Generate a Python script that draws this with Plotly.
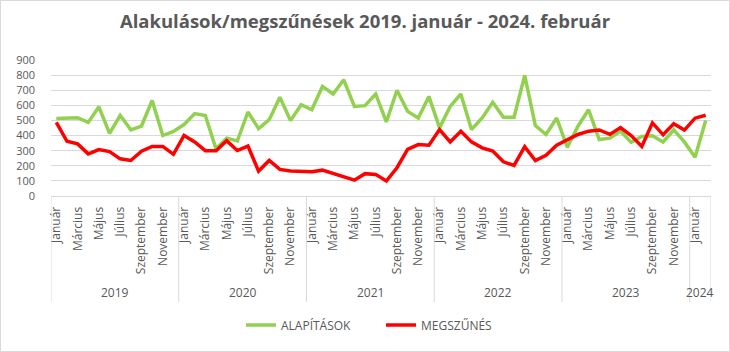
import plotly.graph_objects as go

years = ["2019", "2020", "2021", "2022", "2023", "2024"]
months_hu = ["Január", "Február", "Március", "Április", "Május", "Június",
             "Július", "Augusztus", "Szeptember", "Október", "November", "December"]
months_per_year = [12, 12, 12, 12, 12, 2]

alapitasok = [513, 513, 518, 487, 590, 414, 534, 438, 463, 632, 400, 427,
              473, 545, 533, 312, 383, 364, 556, 446, 505, 653, 499, 604,
              571, 725, 675, 769, 593, 598, 675, 490, 700, 560, 516, 659,
              451, 593, 675, 440, 516, 620, 521, 521, 798, 466, 407, 516,
              323, 462, 571, 374, 383, 430, 355, 394, 399, 358, 438, 358,
              257, 499]
megszunes = [487, 362, 345, 279, 307, 294, 246, 235, 296, 328, 328, 276,
             401, 358, 300, 300, 366, 301, 330, 165, 235, 176, 165, 160,
             160, 171, 149, 127, 105, 148, 143, 99, 187, 308, 340, 336,
             440, 358, 429, 358, 319, 297, 226, 202, 327, 235, 270, 336,
             374, 407, 429, 437, 408, 453, 400, 328, 484, 405, 478, 436,
             515, 534]

# build category positions
labels = []
for y, n in zip(years, months_per_year):
    for m in range(n):
        labels.append((y, months_hu[m]))
xs = list(range(len(labels)))

W, H = 730, 352
ml, mr, mt, mb = 51, 19, 60, 156
pw, ph = W - ml - mr, H - mt - mb

def py(pix):  # pixel y -> paper y
    return (H - mb - pix) / ph

def px(pix):
    return (pix - ml) / pw

TXT = "#595959"
GRID = "#D9D9D9"
FONT = "Open Sans"

fig = go.Figure()
fig.add_trace(go.Scatter(x=xs, y=alapitasok, mode="lines", name="ALAPÍTÁSOK",
                         line=dict(color="#92D050", width=3.5)))
fig.add_trace(go.Scatter(x=xs, y=megszunes, mode="lines", name="MEGSZŰNÉS",
                         line=dict(color="#FF0000", width=3.5)))

tickvals = [i for i, (y, m) in enumerate(labels) if months_hu.index(m) % 2 == 0]
ticktext = [labels[i][1] for i in tickvals]

shapes = []
# year dividers
bounds = [-0.5]
acc = -0.5
for n in months_per_year:
    acc += n
    bounds.append(acc)
for b in bounds:
    shapes.append(dict(type="line", xref="x", yref="paper", x0=b, x1=b,
                       y0=0, y1=py(302), line=dict(color=GRID, width=1)))
# outer border
shapes.append(dict(type="rect", xref="paper", yref="paper",
                   x0=px(0.5), x1=px(729.5), y0=py(351.5), y1=py(0.5),
                   line=dict(color=GRID, width=1), layer="below"))

annotations = []
start = 0
for y, n in zip(years, months_per_year):
    annotations.append(dict(x=start + (n - 1) / 2, y=py(292), xref="x", yref="paper",
                            text=y, showarrow=False, yanchor="middle",
                            font=dict(size=12, color=TXT, family=FONT)))
    start += n

fig.update_layout(
    width=W, height=H,
    margin=dict(l=ml, r=mr, t=mt, b=mb),
    paper_bgcolor="white", plot_bgcolor="white",
    title=dict(text="<b>Alakulások/megszűnések 2019. január - 2024. február</b>",
               x=0.5, xanchor="center", y=1 - 22 / H, yanchor="middle",
               font=dict(size=18.5, color=TXT, family=FONT)),
    xaxis=dict(range=[-0.5, len(xs) - 0.5], tickvals=tickvals, ticktext=ticktext,
               tickangle=-90, showgrid=False, zeroline=False, showline=True,
               linecolor=GRID, linewidth=1, ticks="",
               tickfont=dict(size=12, color=TXT, family=FONT),
               ticklabelstandoff=5),
    yaxis=dict(range=[0, 900], dtick=100, showgrid=True, gridcolor=GRID,
               gridwidth=1, zeroline=False, showline=False, ticks="",
               tickfont=dict(size=11, color=TXT, family=FONT),
               ticklabelstandoff=15),
    legend=dict(orientation="h", x=0.5, xanchor="center", y=py(325),
                yanchor="middle", entrywidth=95,
                font=dict(size=12, color=TXT, family=FONT)),
    shapes=shapes,
    annotations=annotations,
    showlegend=True,
)

fig.write_html("out.html")
